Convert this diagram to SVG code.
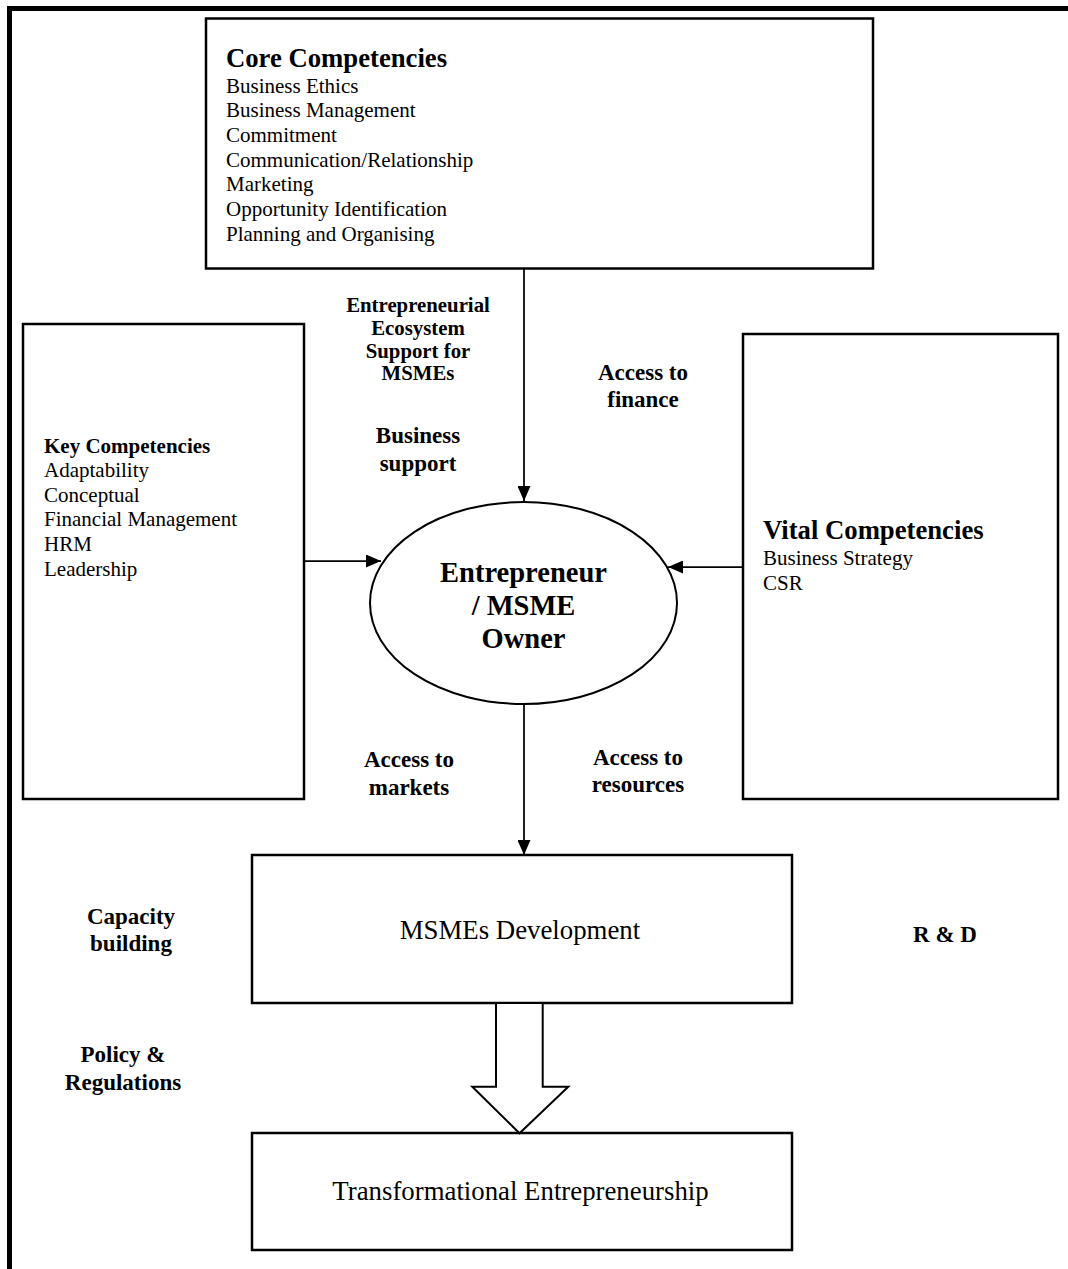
<svg xmlns="http://www.w3.org/2000/svg" width="1068" height="1269" viewBox="0 0 1068 1269">
  <style>
    text { font-family: "Liberation Serif", "Times New Roman", serif; fill: #000; }
    .box { fill: #fff; stroke: #000; stroke-width: 2.5; }
    .title { font-size: 26.7px; font-weight: bold; }
    .item { font-size: 21px; }
    .lbl { font-size: 23px; font-weight: bold; text-anchor: middle; }
    .lbl-s { font-size: 20.8px; font-weight: bold; text-anchor: middle; }
    .big { font-size: 26.8px; text-anchor: middle; }
    .conn { stroke: #000; stroke-width: 1.75; fill: none; marker-end: url(#arrow); }
  </style>
  <defs>
    <marker id="arrow" viewBox="0 0 15 13" refX="15" refY="6.5" markerWidth="15" markerHeight="13" markerUnits="userSpaceOnUse" orient="auto">
      <path d="M0,0 L15,6.5 L0,13 Z" fill="#000"/>
    </marker>
  </defs>

  <rect width="1068" height="1269" fill="#fff"/>
  <!-- outer frame, running off the right and bottom edges -->
  <rect x="9.5" y="8.5" width="1100" height="1300" fill="none" stroke="#000" stroke-width="5"/>

  <g id="core">
    <rect class="box" x="206" y="18.5" width="667" height="250"/>
    <text class="title" x="226" y="67">Core Competencies</text>
    <text class="item" x="226" y="92.5">Business Ethics</text>
    <text class="item" x="226" y="117.2">Business Management</text>
    <text class="item" x="226" y="141.9">Commitment</text>
    <text class="item" x="226" y="166.6">Communication/Relationship</text>
    <text class="item" x="226" y="191.3">Marketing</text>
    <text class="item" x="226" y="216">Opportunity Identification</text>
    <text class="item" x="226" y="240.7">Planning and Organising</text>
  </g>

  <g id="key">
    <rect class="box" x="23" y="324" width="281" height="475"/>
    <text class="item" x="44" y="453" font-weight="bold">Key Competencies</text>
    <text class="item" x="44" y="477">Adaptability</text>
    <text class="item" x="44" y="501.7">Conceptual</text>
    <text class="item" x="44" y="526.4">Financial Management</text>
    <text class="item" x="44" y="551.1">HRM</text>
    <text class="item" x="44" y="575.8">Leadership</text>
  </g>

  <g id="vital">
    <rect class="box" x="743" y="334" width="315" height="465"/>
    <text class="title" x="763" y="538.5">Vital Competencies</text>
    <text class="item" x="763" y="565">Business Strategy</text>
    <text class="item" x="763" y="590">CSR</text>
  </g>

  <g id="owner">
    <ellipse cx="523.5" cy="603" rx="153.5" ry="101" fill="#fff" stroke="#000" stroke-width="2"/>
    <text x="523.5" y="582" font-size="28.5" font-weight="bold" text-anchor="middle">Entrepreneur</text>
    <text x="523.5" y="615" font-size="28.5" font-weight="bold" text-anchor="middle">/ MSME</text>
    <text x="523.5" y="648" font-size="28.5" font-weight="bold" text-anchor="middle">Owner</text>
  </g>

  <g id="development">
    <rect class="box" x="252" y="855" width="540" height="148"/>
    <text class="big" x="520" y="939">MSMEs Development</text>
  </g>

  <g id="transformational">
    <rect class="box" x="252" y="1133" width="540" height="117"/>
    <text class="big" x="520.5" y="1200">Transformational Entrepreneurship</text>
  </g>

  <g id="connectors">
    <path class="conn" d="M524,269 L524,501"/>
    <path class="conn" d="M304,561 L381,561"/>
    <path class="conn" d="M743,567 L668,567"/>
    <path class="conn" d="M524,704 L524,855"/>
    <!-- hollow block arrow from development to transformation -->
    <polygon points="496,1003 542.7,1003 542.7,1086.7 568.3,1086.7 519.5,1133.3 472.3,1086.7 496,1086.7" fill="#fff" stroke="#000" stroke-width="2"/>
  </g>

  <g id="labels">
    <text class="lbl-s" x="418" y="312">Entrepreneurial</text>
    <text class="lbl-s" x="418" y="335">Ecosystem</text>
    <text class="lbl-s" x="418" y="358">Support for</text>
    <text class="lbl-s" x="418" y="380">MSMEs</text>
    <text class="lbl" x="418" y="443">Business</text>
    <text class="lbl" x="418" y="471">support</text>
    <text class="lbl" x="643" y="380">Access to</text>
    <text class="lbl" x="643" y="407">finance</text>
    <text class="lbl" x="409" y="767">Access to</text>
    <text class="lbl" x="409" y="795">markets</text>
    <text class="lbl" x="638" y="765">Access to</text>
    <text class="lbl" x="638" y="792">resources</text>
    <text class="lbl" x="131" y="924">Capacity</text>
    <text class="lbl" x="131" y="951">building</text>
    <text class="lbl" x="945" y="942">R &amp; D</text>
    <text class="lbl" x="123" y="1062">Policy &amp;</text>
    <text class="lbl" x="123" y="1090">Regulations</text>
  </g>
</svg>
